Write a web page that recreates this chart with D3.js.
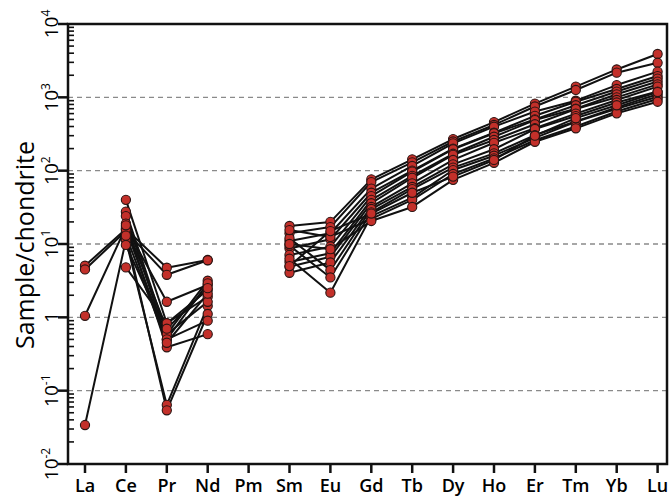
<!DOCTYPE html>
<html lang="en">
<head>
    <meta charset="UTF-8">
    <title>REE chondrite-normalized pattern</title>
    <script src="https://cdnjs.cloudflare.com/ajax/libs/d3/7.8.5/d3.min.js"></script>
    <style>
        body {
            margin: 0;
            background: #fff;
        }
        svg {
            display: block;
            font-family: 'Open Sans', 'Noto Sans', sans-serif;
        }
    </style>
</head>
<body>
    <svg id="chart" width="670" height="498"></svg>

    <script>
        // element order on the x axis (Pm has no data, so lines break there)
        const elements = ["La", "Ce", "Pr", "Nd", "Pm", "Sm", "Eu", "Gd", "Tb", "Dy", "Ho", "Er", "Tm", "Yb", "Lu"];

        // decade ticks of the log axis: value and exponent ("" means plain "1")
        const decades = [1e-2, 1e-1, 1, 1e1, 1e2, 1e3, 1e4];
        const exponents = ["-2", "-1", "", "1", "2", "3", "4"];

        // sample/chondrite values, one array per zircon, in element order
        const s01 = [null, 40, 0.83, 2.36, null, 17.6, 20, 76, 143, 270, 460, 820, 1400, 2400, 3900];
        const s02 = [5.06, 16, 4.75, 6.05, null, 14, 17, 70, 130, 250, 420, 750, 1260, 2170, 2960];
        const s03 = [4.5, 15, 3.8, 6.0, null, 11, 14, 57, 116, 236, 398, 640, 900, 1470, 2240];
        const s04 = [1.05, 17, 1.63, 2.76, null, 8.7, 11.6, 50, 100, 200, 330, 560, 870, 1300, 1950];
        const s05 = [0.034, 11.3, 0.064, 1.43, null, 7.1, 9.2, 45, 97, 196, 324, 500, 780, 1200, 1800];
        const s06 = [null, 27.6, 0.59, 3.16, null, 5.7, 7.5, 40, 85, 170, 290, 490, 700, 1100, 1640];
        const s07 = [null, 24, 0.50, 2.9, null, 4.9, 6.7, 36, 80, 164, 262, 430, 690, 1000, 1500];
        const s08 = [null, 19, 0.39, 0.59, null, 4.05, 5.6, 32, 67, 140, 240, 380, 600, 920, 1400];
        const s09 = [null, 13.7, 0.054, 1.11, null, 12, 4.4, 30, 60, 122, 196, 370, 556, 850, 1200];
        const s10 = [null, 4.8, 0.83, 1.91, null, 9.5, 3.5, 27, 56, 110, 172, 306, 470, 730, 1100];
        const s11 = [null, 9.7, 0.59, 1.63, null, 6.3, 2.17, 24, 43, 102, 160, 280, 465, 700, 1020];
        const s12 = [null, 15.9, 0.50, 0.9, null, 15.5, 12.5, 22, 40, 90, 147, 260, 400, 640, 950];
        const s13 = [null, 13, 0.45, 2.1, null, 10, 8.5, 20.6, 32, 75, 128, 248, 378, 605, 871];
        const s14 = [null, 18, 0.7, 2.5, null, 5, 15, 26, 50, 83, 140, 300, 520, 780, 1180];

        const samples = [s01, s02, s03, s04, s05, s06, s07, s08, s09, s10, s11, s12, s13, s14];

        const svg = d3.select("#chart");
        const pLeft = 68, pRight = 667, pTop = 24, pBottom = 464;

        const x = d3.scalePoint().domain(elements).range([85, 657.6]);
        const y = d3.scaleLog().domain([1e-2, 1e4]).range([pBottom, pTop]);

        // dashed grid at inner decades
        svg.append("g")
            .selectAll("line")
            .data(decades.slice(1, -1))
            .enter().append("line")
            .attr("x1", pLeft).attr("x2", pRight)
            .attr("y1", d => y(d)).attr("y2", d => y(d))
            .attr("stroke", "#8a8a8a")
            .attr("stroke-width", 1.3)
            .attr("stroke-dasharray", "5,4");

        // lines
        const line = d3.line()
            .defined(d => d.v != null)
            .x(d => x(d.el))
            .y(d => y(d.v));

        const rows = samples.map(s => s.map((v, i) => ({ el: elements[i], v: v })));

        svg.append("g")
            .selectAll("path")
            .data(rows)
            .enter().append("path")
            .attr("d", line)
            .attr("fill", "none")
            .attr("stroke", "#111")
            .attr("stroke-width", 2)
            .attr("stroke-linejoin", "round");

        // dots
        svg.append("g")
            .selectAll("circle")
            .data(rows.flat().filter(d => d.v != null))
            .enter().append("circle")
            .attr("cx", d => x(d.el))
            .attr("cy", d => y(d.v))
            .attr("r", 4.6)
            .attr("fill", "#c3302a")
            .attr("stroke", "#2a1412")
            .attr("stroke-width", 1.1);

        // frame
        svg.append("rect")
            .attr("x", pLeft).attr("y", pTop)
            .attr("width", pRight - pLeft).attr("height", pBottom - pTop)
            .attr("fill", "none")
            .attr("stroke", "#111")
            .attr("stroke-width", 2.5);

        // y axis: major ticks outward, minor ticks inward
        const minor = [];
        decades.slice(0, -1).forEach(d => {
            for (let k = 2; k <= 9; k++) minor.push(d * k);
        });

        svg.append("g")
            .selectAll("line")
            .data(minor)
            .enter().append("line")
            .attr("x1", pLeft).attr("x2", pLeft + 6)
            .attr("y1", d => y(d)).attr("y2", d => y(d))
            .attr("stroke", "#111")
            .attr("stroke-width", 1.6);

        svg.append("g")
            .selectAll("line")
            .data(decades)
            .enter().append("line")
            .attr("x1", pLeft - 10).attr("x2", pLeft)
            .attr("y1", d => y(d)).attr("y2", d => y(d))
            .attr("stroke", "#111")
            .attr("stroke-width", 2.5);

        const yLab = svg.append("g")
            .selectAll("text")
            .data(decades)
            .enter().append("text")
            .attr("transform", d => `translate(58,${y(d)}) rotate(-90)`)
            .attr("text-anchor", "middle")
            .attr("font-size", 19)
            .attr("fill", "#000");

        yLab.each(function(d, i) {
            const t = d3.select(this);
            if (exponents[i] === "") {
                t.text("1");
            } else {
                t.append("tspan").text("10");
                t.append("tspan")
                    .attr("dy", -8)
                    .attr("font-size", 12)
                    .text(exponents[i]);
            }
        });

        svg.append("text")
            .attr("transform", `translate(34,245) rotate(-90)`)
            .attr("text-anchor", "middle")
            .attr("font-size", 25)
            .attr("fill", "#000")
            .text("Sample/chondrite");

        // x axis ticks and labels
        svg.append("g")
            .selectAll("line")
            .data(elements)
            .enter().append("line")
            .attr("x1", d => x(d)).attr("x2", d => x(d))
            .attr("y1", pBottom).attr("y2", pBottom + 9)
            .attr("stroke", "#111")
            .attr("stroke-width", 2.5);

        svg.append("g")
            .selectAll("text")
            .data(elements)
            .enter().append("text")
            .attr("x", d => x(d))
            .attr("y", 492)
            .attr("text-anchor", "middle")
            .attr("font-size", 18)
            .attr("font-weight", 600)
            .attr("fill", "#000")
            .text(d => d);
    </script>
</body>
</html>
